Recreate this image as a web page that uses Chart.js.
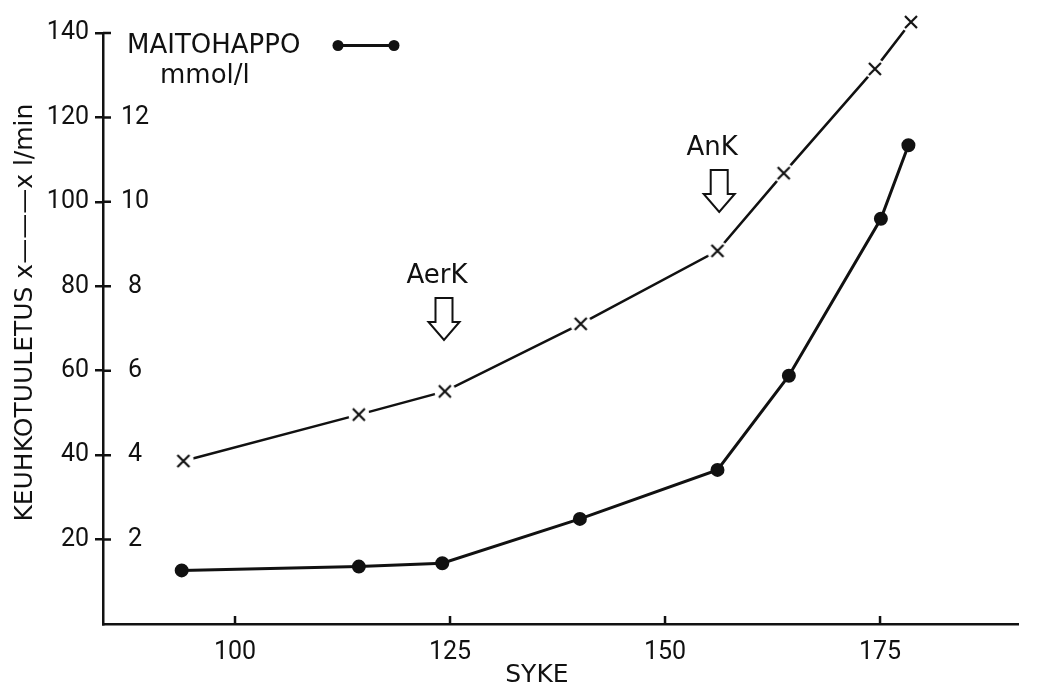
<!DOCTYPE html>
<html>
<head>
<meta charset="utf-8">
<title>Keuhkotuuletus ja maitohappo</title>
<script src="https://cdn.jsdelivr.net/npm/chart.js@4.4.1/dist/chart.umd.min.js"></script>
<style>
  html, body { margin: 0; padding: 0; background: #fff; }
</style>
</head>
<body>
<canvas id="chart" width="1037" height="689"></canvas>
<script>
/* ================================================
   DATA
================================================ */
const sykeVent      = [94, 114.4, 124.4, 140.2, 156.1, 163.8, 174.4, 178.6];
const ventilaatio   = [38.6, 49.6, 55.1, 71.1, 88.4, 106.8, 131.5, 142.6];   // l/min
const sykeLaktaatti = [93.8, 114.4, 124.1, 140.1, 156.1, 164.4, 175.1, 178.3];
const maitohappo    = [1.27, 1.36, 1.44, 2.49, 3.65, 5.88, 9.6, 11.34];      // mmol/l

const sykeTicks = [100, 125, 150, 175];
const ventTicks = [20, 40, 60, 80, 100, 120, 140];
const laktTicks = [2, 4, 6, 8, 10, 12];

const kynnysNimet = ['AerK', 'AnK'];
const kynnysSyke  = [124.3, 156.3];
const kynnysKarki = [67.3, 97.6];   // arrow tip, l/min

const INK   = '#111';
const NUMS  = 'Roboto, "DejaVu Sans", sans-serif';
const WORDS = '"DejaVu Sans", Roboto, sans-serif';

Chart.defaults.font.family = NUMS;
Chart.defaults.font.size = 25;
Chart.defaults.color = INK;

/* x-marker with a white halo so the line stops short of it */
function makeCross() {
  const c = document.createElement('canvas');
  c.width = 24; c.height = 24;
  const g = c.getContext('2d');
  g.fillStyle = '#fff';
  g.beginPath(); g.arc(12, 12, 10.5, 0, Math.PI * 2); g.fill();
  g.strokeStyle = INK;
  g.lineWidth = 2.2;
  g.beginPath();
  g.moveTo(6, 6); g.lineTo(18, 18);
  g.moveTo(18, 6); g.lineTo(6, 18);
  g.stroke();
  return c;
}

/* ================================================
   EXTRA DRAWING — inner tick halves, arrows, key
================================================ */
function drawArrow(ctx, px, tip) {
  ctx.beginPath();
  ctx.moveTo(px - 8.5, tip - 42);
  ctx.lineTo(px + 8.5, tip - 42);
  ctx.lineTo(px + 8.5, tip - 18);
  ctx.lineTo(px + 15.5, tip - 18);
  ctx.lineTo(px, tip);
  ctx.lineTo(px - 15.5, tip - 18);
  ctx.lineTo(px - 8.5, tip - 18);
  ctx.closePath();
  ctx.stroke();
}

const piirrokset = {
  id: 'piirrokset',
  afterDraw(chart) {
    const { ctx, chartArea: a, scales: { x, y } } = chart;
    ctx.save();
    ctx.strokeStyle = INK;
    ctx.fillStyle = INK;
    ctx.lineWidth = 2.5;

    // tick marks reaching into the plot
    ctx.beginPath();
    ventTicks.forEach(v => {
      const py = y.getPixelForValue(v);
      ctx.moveTo(a.left, py);
      ctx.lineTo(a.left + 8, py);
    });
    sykeTicks.forEach(v => {
      const px = x.getPixelForValue(v);
      ctx.moveTo(px, a.bottom);
      ctx.lineTo(px, a.bottom - 8);
    });
    ctx.stroke();

    // threshold arrows
    ctx.font = '26px ' + WORDS;
    ctx.textAlign = 'center';
    ctx.textBaseline = 'middle';
    ctx.lineWidth = 2;
    kynnysNimet.forEach((nimi, i) => {
      const px  = x.getPixelForValue(kynnysSyke[i]);
      const tip = y.getPixelForValue(kynnysKarki[i]);
      drawArrow(ctx, px, tip);
      ctx.fillText(nimi, px - 7, tip - 64);
    });

    // key for the lactate curve
    ctx.textAlign = 'left';
    ctx.fillText('MAITOHAPPO', a.left + 24, a.top + 13);
    ctx.fillText('mmol/l', a.left + 57, a.top + 43);
    ctx.lineWidth = 3;
    ctx.beginPath();
    ctx.moveTo(a.left + 235, a.top + 12.5);
    ctx.lineTo(a.left + 291, a.top + 12.5);
    ctx.stroke();
    [235, 291].forEach(dx => {
      ctx.beginPath();
      ctx.arc(a.left + dx, a.top + 12.5, 5.5, 0, Math.PI * 2);
      ctx.fill();
    });
    ctx.restore();
  },
};

/* ================================================
   CHART
================================================ */
new Chart(document.getElementById('chart'), {
  type: 'line',
  data: {
    datasets: [
      {
        label: 'KEUHKOTUULETUS l/min',
        data: sykeVent.map((s, i) => ({ x: s, y: ventilaatio[i] })),
        yAxisID: 'y',
        borderColor: INK,
        borderWidth: 2.5,
        pointStyle: makeCross(),
        pointRadius: 8,
        pointHoverRadius: 16,
        tension: 0,
        clip: false,
      },
      {
        label: 'MAITOHAPPO mmol/l',
        data: sykeLaktaatti.map((s, i) => ({ x: s, y: maitohappo[i] })),
        yAxisID: 'y2',
        borderColor: INK,
        borderWidth: 3,
        pointStyle: 'circle',
        pointRadius: 5.5,
        pointHoverRadius: 12,
        pointBackgroundColor: INK,
        pointBorderColor: INK,
        tension: 0,
        clip: false,
      },
    ],
  },
  options: {
    responsive: false,
    animation: false,
    events: [],
    layout: { padding: { top: 29, right: 0, bottom: 0, left: 0 } },
    plugins: {
      legend: { display: false },
      tooltip: { enabled: false },
    },
    scales: {
      x: {
        type: 'linear',
        min: 84.65,
        max: 191.1,
        afterBuildTicks: s => { s.ticks = sykeTicks.map(v => ({ value: v })); },
        afterFit: s => { s.height = 65; },
        grid: { display: false },
        border: { display: true, color: INK, width: 2.5 },
        ticks: { padding: 6, maxRotation: 0 },
        title: {
          display: true,
          text: 'SYKE      ',
          font: { family: WORDS, size: 25, lineHeight: 1 },
          padding: { top: 0, bottom: 1.5 },
        },
      },
      y: {
        type: 'linear',
        position: 'left',
        weight: 1,
        min: 0,
        max: 140,
        afterBuildTicks: s => { s.ticks = ventTicks.map(v => ({ value: v })); },
        afterFit: s => { s.width = 103; },
        grid: {
          display: true,
          drawOnChartArea: false,
          drawTicks: true,
          tickLength: 8,
          color: INK,
          lineWidth: 2.5,
        },
        border: { display: true, color: INK, width: 2.5 },
        ticks: { padding: 6 },
        title: {
          display: true,
          text: '    KEUHKOTUULETUS x———x l/min',
          font: { family: WORDS, size: 25, lineHeight: 1 },
          padding: { top: 12.5, bottom: 0 },
        },
      },
      y2: {
        type: 'linear',
        position: 'left',
        weight: 0,
        min: 0,
        max: 14,
        afterBuildTicks: s => { s.ticks = laktTicks.map(v => ({ value: v })); },
        afterFit: s => { s.width = 0; },
        grid: { display: false },
        border: { display: false },
        ticks: { mirror: true, crossAlign: 'center', padding: 18 },
      },
    },
  },
  plugins: [piirrokset],
});
</script>
</body>
</html>
